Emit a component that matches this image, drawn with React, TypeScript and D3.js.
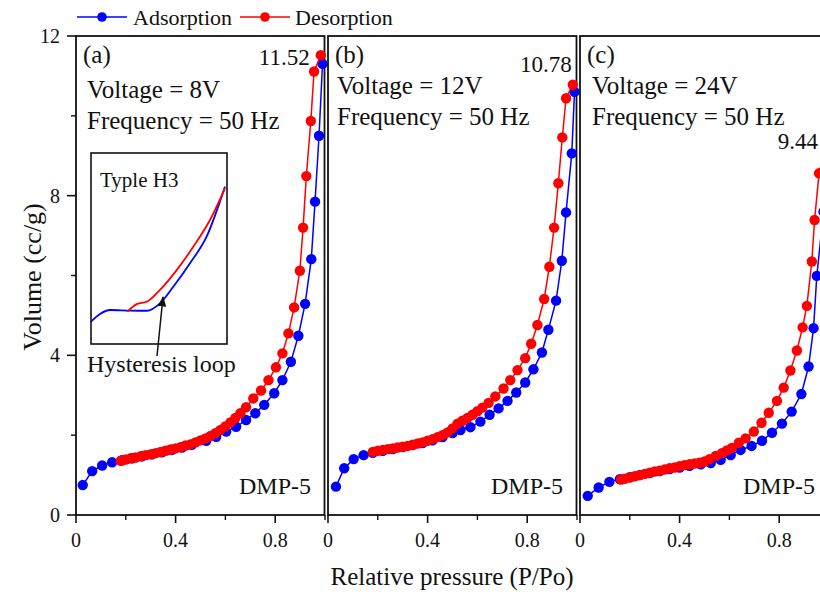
import React from 'react';
import * as d3 from 'd3';

type Pt = [number, number];

// panel (a) : 8 V
const adsA: Pt[] = [
  [0.027, 0.75], [0.065, 1.1], [0.105, 1.24], [0.145, 1.32], [0.185, 1.37], [0.225, 1.42],
  [0.265, 1.47], [0.305, 1.52], [0.345, 1.57], [0.385, 1.63], [0.425, 1.69], [0.465, 1.76],
  [0.523, 1.86], [0.563, 1.96], [0.603, 2.09], [0.643, 2.21], [0.683, 2.38], [0.72, 2.55],
  [0.756, 2.76], [0.796, 3.05], [0.829, 3.38], [0.863, 3.84], [0.893, 4.49], [0.92, 5.29],
  [0.945, 6.41], [0.96, 7.85], [0.976, 9.5], [0.99, 11.3],
];
const desA: Pt[] = [
  [0.983, 11.52], [0.956, 11.11], [0.943, 9.87], [0.925, 8.49], [0.912, 7.2], [0.899, 6.12],
  [0.876, 5.2], [0.853, 4.55], [0.829, 4.05], [0.803, 3.7], [0.773, 3.38], [0.743, 3.12],
  [0.712, 2.92], [0.683, 2.7], [0.66, 2.55], [0.64, 2.43], [0.62, 2.32], [0.6, 2.22],
  [0.58, 2.13], [0.56, 2.05], [0.54, 1.98], [0.52, 1.92], [0.5, 1.87], [0.48, 1.82],
  [0.46, 1.77], [0.44, 1.74], [0.42, 1.7], [0.4, 1.67], [0.38, 1.64], [0.36, 1.61],
  [0.34, 1.58], [0.32, 1.55], [0.3, 1.52], [0.28, 1.5], [0.26, 1.47], [0.24, 1.44],
  [0.22, 1.42], [0.2, 1.39], [0.18, 1.36],
];

// panel (b) : 12 V
const adsB: Pt[] = [
  [0.032, 0.71], [0.065, 1.17], [0.103, 1.4], [0.143, 1.5], [0.18, 1.56], [0.22, 1.61],
  [0.26, 1.65], [0.3, 1.7], [0.34, 1.75], [0.38, 1.8], [0.42, 1.87], [0.46, 1.95],
  [0.5, 2.05], [0.532, 2.13], [0.572, 2.2], [0.612, 2.34], [0.649, 2.51], [0.685, 2.67],
  [0.721, 2.86], [0.756, 3.07], [0.792, 3.32], [0.825, 3.65], [0.859, 4.07], [0.885, 4.64],
  [0.916, 5.37], [0.939, 6.37], [0.956, 7.58], [0.979, 9.06], [0.99, 10.6],
];
const desB: Pt[] = [
  [0.983, 10.78], [0.956, 10.44], [0.941, 9.46], [0.925, 8.31], [0.908, 7.2], [0.889, 6.22],
  [0.868, 5.41], [0.841, 4.76], [0.816, 4.29], [0.792, 3.93], [0.761, 3.63], [0.732, 3.38],
  [0.705, 3.17], [0.672, 2.97], [0.645, 2.81], [0.62, 2.69], [0.6, 2.6], [0.58, 2.51],
  [0.56, 2.43], [0.54, 2.36], [0.52, 2.29], [0.5, 2.17], [0.48, 2.07], [0.46, 2.0],
  [0.44, 1.95], [0.42, 1.9], [0.4, 1.86], [0.38, 1.82], [0.36, 1.79], [0.34, 1.76],
  [0.32, 1.73], [0.3, 1.71], [0.28, 1.69], [0.26, 1.67], [0.24, 1.65], [0.22, 1.63],
  [0.2, 1.61], [0.18, 1.58],
];

// panel (c) : 24 V
const adsC: Pt[] = [
  [0.031, 0.48], [0.075, 0.69], [0.118, 0.83], [0.16, 0.9], [0.2, 0.95], [0.24, 1.0],
  [0.28, 1.05], [0.32, 1.1], [0.36, 1.15], [0.4, 1.19], [0.44, 1.23], [0.485, 1.27],
  [0.525, 1.3], [0.565, 1.38], [0.605, 1.5], [0.645, 1.63], [0.689, 1.73], [0.731, 1.86],
  [0.771, 2.06], [0.811, 2.29], [0.85, 2.59], [0.889, 3.03], [0.918, 3.72], [0.938, 4.68],
  [0.951, 5.99], [0.978, 7.6], [0.99, 9.0],
];
const desC: Pt[] = [
  [0.992, 9.44], [0.96, 8.56], [0.942, 7.39], [0.931, 6.35], [0.911, 5.24], [0.894, 4.7],
  [0.871, 4.12], [0.845, 3.62], [0.818, 3.19], [0.791, 2.86], [0.758, 2.56], [0.729, 2.31],
  [0.698, 2.09], [0.665, 1.92], [0.638, 1.81], [0.61, 1.68], [0.59, 1.62], [0.57, 1.55],
  [0.545, 1.48], [0.52, 1.4], [0.5, 1.34], [0.48, 1.31], [0.46, 1.29], [0.44, 1.27],
  [0.42, 1.25], [0.4, 1.22], [0.38, 1.19], [0.36, 1.17], [0.34, 1.14], [0.32, 1.11],
  [0.3, 1.09], [0.28, 1.06], [0.26, 1.03], [0.24, 1.0], [0.22, 0.97], [0.2, 0.94],
  [0.18, 0.91], [0.165, 0.89],
];

// inset sketch (normalised units)
const insetAds: Pt[] = [
  [0, 0.117], [0.066, 0.157], [0.14, 0.178], [0.287, 0.175], [0.41, 0.174], [0.507, 0.213],
  [0.605, 0.3], [0.728, 0.423], [0.85, 0.562], [0.985, 0.824],
];
const insetDes: Pt[] = [
  [0.267, 0.169], [0.336, 0.209], [0.41, 0.221], [0.507, 0.283], [0.63, 0.387],
  [0.752, 0.509], [0.875, 0.649], [0.985, 0.815],
];

const panelTags = ['(a)', '(b)', '(c)'];
const voltages = ['Voltage = 8V', 'Voltage = 12V', 'Voltage = 24V'];
const maxLabels = ['11.52', '10.78', '9.44'];
const xMajor = [0, 0.4, 0.8];
const xMinor = [0.2, 0.6, 1.0];
const yMajor = [0, 4, 8, 12];
const yMinor = [2, 6, 10];

const BLUE = '#0000ff';
const RED = '#ff0000';
const INK = '#111';
const FONT = "'Liberation Serif', 'Times New Roman', serif";

const panels = [
  { ads: adsA, des: desA, textDx: 11, textDy: 0, maxDx: -11, maxDy: 10 },
  { ads: adsB, des: desB, textDx: 9, textDy: -4, maxDx: -1, maxDy: -13 },
  { ads: adsC, des: desC, textDx: 12, textDy: -4, maxDx: -9, maxDy: 11 },
];

const App: React.FC = () => {
  const W = 820;
  const H = 592;
  const top = 36;
  const bottom = 515;
  const panelW = 249;
  const lefts = [76, 328, 580];

  const y = d3.scaleLinear().domain([0, 12]).range([bottom, top]);

  const insetX = d3.scaleLinear().domain([0, 1]).range([91, 227]);
  const insetY = d3.scaleLinear().domain([0, 1]).range([344, 153]);
  const insetLine = d3.line<Pt>().x(d => insetX(d[0])).y(d => insetY(d[1])).curve(d3.curveMonotoneX);

  return (
    <svg width={W} height={H} style={{ position: 'absolute', left: 0, top: 0, background: '#fff', fontFamily: FONT }}>
      <defs>
        <marker id="arrow" viewBox="0 0 10 10" refX="9" refY="5" markerWidth="7" markerHeight="9" orient="auto">
          <path d="M0,1 L10,5 L0,9 z" fill={INK} />
        </marker>
      </defs>

      {/* legend */}
      <g>
        <line x1={77} x2={127} y1={17} y2={17} stroke={BLUE} strokeWidth={1.6} />
        <circle cx={102} cy={17} r={4.8} fill={BLUE} />
        <text x={133} y={25} fontSize={22} fill={INK}>Adsorption</text>
        <line x1={240} x2={290} y1={17} y2={17} stroke={RED} strokeWidth={1.6} />
        <circle cx={265} cy={17} r={4.8} fill={RED} />
        <text x={295} y={25} fontSize={22} fill={INK}>Desorption</text>
      </g>

      {panels.map((p, i) => {
        const left = lefts[i];
        const x = d3.scaleLinear().domain([0, 1]).range([left, left + panelW]);
        const line = d3.line<Pt>().x(d => x(d[0])).y(d => y(d[1]));
        const maxPt = p.des[0];
        return (
          <g key={i}>
            <rect x={left} y={top} width={panelW - 0.5} height={bottom - top}
              fill="none" stroke={INK} strokeWidth={1.8} />
            {xMajor.map(t => (
              <g key={'M' + t}>
                <line x1={x(t)} x2={x(t)} y1={bottom} y2={bottom + 8} stroke={INK} strokeWidth={1.6} />
                <text x={x(t)} y={547} fontSize={20} textAnchor="middle" fill={INK}>{String(t)}</text>
              </g>
            ))}
            {xMinor.map(t => (
              <line key={'m' + t} x1={x(t)} x2={x(t)} y1={bottom} y2={bottom + 5} stroke={INK} strokeWidth={1.4} />
            ))}

            <path d={line(p.ads) || ''} fill="none" stroke={BLUE} strokeWidth={1.5} />
            {p.ads.map((d, k) => (
              <circle key={'a' + k} cx={x(d[0])} cy={y(d[1])} r={5.2} fill={BLUE} />
            ))}
            <path d={line(p.des) || ''} fill="none" stroke={RED} strokeWidth={1.5} />
            {p.des.map((d, k) => (
              <circle key={'d' + k} cx={x(d[0])} cy={y(d[1])} r={5.2} fill={RED} />
            ))}

            <text x={left + 7} y={63} fontSize={25} fill={INK}>{panelTags[i]}</text>
            <text x={left + p.textDx} y={98 + p.textDy} fontSize={25} fill={INK}>{voltages[i]}</text>
            <text x={left + p.textDx} y={129 + p.textDy} fontSize={25} fill={INK}>Frequency = 50 Hz</text>
            <text x={x(maxPt[0]) + p.maxDx} y={y(maxPt[1]) + p.maxDy} fontSize={23} textAnchor="end" fill={INK}>
              {maxLabels[i]}
            </text>
            <text x={left + panelW - 14} y={494} fontSize={24} textAnchor="end" fill={INK}>DMP-5</text>
          </g>
        );
      })}

      {/* y axis of panel (a) */}
      {yMajor.map(t => (
        <g key={'y' + t}>
          <line x1={67} x2={76} y1={y(t)} y2={y(t)} stroke={INK} strokeWidth={1.6} />
          <text x={60} y={y(t) + 7} fontSize={20} textAnchor="end" fill={INK}>{String(t)}</text>
        </g>
      ))}
      {yMinor.map(t => (
        <line key={'ym' + t} x1={71} x2={76} y1={y(t)} y2={y(t)} stroke={INK} strokeWidth={1.4} />
      ))}

      {/* inset */}
      <rect x={91} y={153} width={136} height={191} fill="#fff" stroke={INK} strokeWidth={1.6} />
      <text x={100} y={187} fontSize={21} fill={INK}>Typle H3</text>
      <path d={insetLine(insetAds) || ''} fill="none" stroke={BLUE} strokeWidth={1.8} />
      <path d={insetLine(insetDes) || ''} fill="none" stroke={RED} strokeWidth={1.8} />
      <line x1={157} y1={356} x2={163} y2={297} stroke={INK} strokeWidth={1.5} markerEnd="url(#arrow)" />
      <text x={87} y={372} fontSize={24} fill={INK}>Hysteresis loop</text>

      {/* axis titles */}
      <text x={452} y={585} fontSize={25} textAnchor="middle" fill={INK}>Relative pressure (P/Po)</text>
      <text transform="translate(41,277) rotate(-90)" fontSize={26} textAnchor="middle" fill={INK}>Volume (cc/g)</text>
    </svg>
  );
};

export default App;
